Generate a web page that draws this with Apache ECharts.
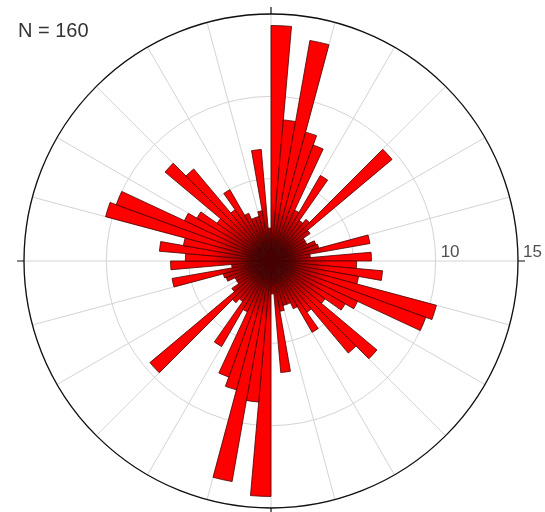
<!DOCTYPE html>
<html><head><meta charset="utf-8">
<script src="https://cdn.jsdelivr.net/npm/echarts@6/dist/echarts.min.js"></script>
<style>html,body{margin:0;padding:0;background:#fff}#c{width:545px;height:512px}</style>
</head><body><div id="c"></div>
<script>
// azimuth bins (degrees, start of each 5° bin, clockwise from north)
const binStarts = ['0','5','10','15','20','25','30','35','40','45','50','55','60','65','70','75','80','85',
  '90','95','100','105','110','115','120','125','130','135','140','145','150','155','160','165','170','175',
  '180','185','190','195','200','205','210','215','220','225','230','235','240','245','250','255','260','265',
  '270','275','280','285','290','295','300','305','310','315','320','325','330','335','340','345','350','355'];
// bar length per bin
const binValues = [14.3, 8.6, 13.6, 8.1, 7.5, 3.4, 6.0, 3.0, 3.3, 9.6, 2.9, 2.4, 2.4, 2.9, 3.0, 6.1, 2.4, 6.1,
  5.2, 6.8, 5.4, 10.4, 10.0, 5.8, 5.2, 4.0, 8.4, 7.3, 3.8, 5.0, 3.2, 2.8, 2.8, 3.1, 6.8, 2.0,
  14.3, 8.6, 13.6, 8.1, 7.5, 3.4, 6.0, 3.0, 3.3, 9.6, 2.9, 2.4, 2.4, 2.9, 3.0, 6.1, 2.4, 6.1,
  5.2, 6.8, 5.4, 10.4, 10.0, 5.8, 5.2, 4.0, 8.4, 7.3, 3.8, 5.0, 3.2, 2.8, 2.8, 3.1, 6.8, 2.0];
const radiusLabels = ['10', '15'];
const sampleCount = 160;

const CX = 271, CY = 261, R = 247;
const chart = echarts.init(document.getElementById('c'), null, {renderer: 'canvas'});
chart.setOption({
  animation: false,
  backgroundColor: '#fff',
  title: {
    text: 'N = ' + sampleCount, left: 13, top: 16,
    textStyle: {fontFamily: 'Liberation Sans, Arial, sans-serif', fontSize: 20, fontWeight: 'normal', color: '#333'}
  },
  polar: [
    {center: [CX, CY], radius: R},
    {center: [CX, CY], radius: R}
  ],
  angleAxis: [
    {
      polarIndex: 0, type: 'category', data: binStarts, startAngle: 90, clockwise: true,
      boundaryGap: true,
      axisLine: {show: true, lineStyle: {color: '#111', width: 1.3}},
      axisTick: {show: false}, axisLabel: {show: false},
      splitLine: {show: true, interval: 1, lineStyle: {color: '#d4d4d4', width: 1}},
      z: 1
    },
    {
      polarIndex: 1, type: 'value', min: 0, max: 360, interval: 90, startAngle: 0, clockwise: true,
      axisLine: {show: false},
      axisTick: {show: true, length: 7, lineStyle: {color: '#111', width: 1.2}},
      axisLabel: {show: false}, splitLine: {show: false}
    }
  ],
  radiusAxis: [
    {
      polarIndex: 0, type: 'value', min: 0, max: 15, interval: 5,
      axisLine: {show: false}, axisTick: {show: false}, axisLabel: {show: false},
      splitLine: {show: true, lineStyle: {color: '#d4d4d4', width: 1}}
    },
    {
      polarIndex: 1, type: 'value', min: 0, max: 15, interval: 5,
      axisLine: {show: false}, axisTick: {show: false}, splitLine: {show: false},
      axisLabel: {
        show: true, margin: 0, align: 'left', verticalAlign: 'bottom', padding: [0, 0, 0, 5],
        fontFamily: 'Liberation Sans, Arial, sans-serif', fontSize: 17, color: '#505050',
        formatter: v => radiusLabels.indexOf(String(v)) >= 0 ? String(v) : ''
      }
    }
  ],
  series: [{
    type: 'bar', coordinateSystem: 'polar', polarIndex: 0,
    data: binValues, barCategoryGap: '0%', barGap: '0%',
    itemStyle: {
      color: {
        type: 'radial', x: CX, y: CY, r: 60, global: true,
        colorStops: [
          {offset: 0, color: '#000000'},
          {offset: 0.2, color: '#2a0000'},
          {offset: 0.55, color: '#a00000'},
          {offset: 1, color: '#ff0000'}
        ]
      },
      borderColor: '#4a0000', borderWidth: 0.8
    },
    z: 3
  }]
});
</script></body></html>
